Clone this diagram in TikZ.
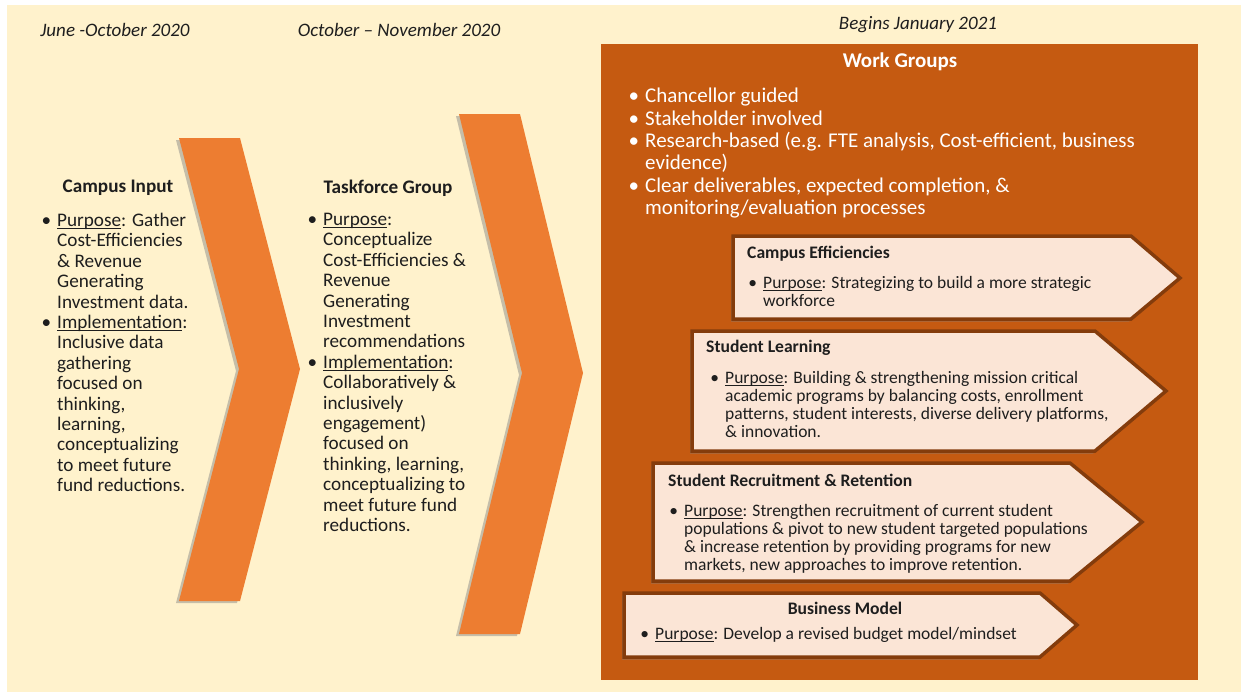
\documentclass[tikz,border=0pt]{standalone}
\usepackage{fontspec}
\setmainfont{Carlito}
\usetikzlibrary{shadows}

\definecolor{cream}{HTML}{FFF2CC}
\definecolor{rust}{HTML}{C55A11}
\definecolor{chev}{HTML}{ED7D31}
\definecolor{peach}{HTML}{FBE5D6}
\definecolor{brownline}{HTML}{843C0C}
\definecolor{ink}{HTML}{1E1E1E}

\newsavebox{\undlbox}
\newcommand{\undl}[1]{\sbox{\undlbox}{#1}\rlap{\rule[-2.4pt]{\wd\undlbox}{0.9pt}}\usebox{\undlbox}}
\newcommand{\bul}{\llap{\textbullet\hspace{6pt}}}
\newcommand{\purp}{\undl{Purpose}}

\begin{document}
\begin{tikzpicture}[x=1pt, y=-1pt,
    date/.style = {font=\fontsize{19}{20}\selectfont\itshape, text=ink, inner sep=0pt},
    head/.style = {font=\fontsize{19.2}{20}\selectfont\bfseries, text=ink, inner sep=0pt},
    col/.style = {anchor=north west, inner sep=0pt, align=left, text=ink, font=\fontsize{19.2}{20.4}\selectfont},
    chevron/.style = {fill=chev, drop shadow={shadow xshift=-3pt, shadow yshift=-2pt, opacity=0.45}},
    wg/.style = {fill=peach, draw=brownline, line width=3.5pt, drop shadow={shadow xshift=-2pt, shadow yshift=-2.5pt, opacity=0.5}},
    wghead/.style = {font=\fontsize{17.6}{18}\selectfont\bfseries, text=ink, inner sep=0pt, anchor=west},
    wgtext/.style = {anchor=north west, inner sep=0pt, align=left, text=ink, font=\fontsize{17.5}{18}\selectfont}]

    % page and background
    \useasboundingbox (0,0) rectangle (1248,694);
    \fill[white] (0,0) rectangle (1248,694);
    \fill[cream] (7,5) rectangle (1241,692);

    % time line
    \node[date] (d1) at (115,30) {June -October 2020};
    \node[date] (d2) at (399,30) {October -- November 2020};
    \node[date] (d3) at (918,25) {Begins January 2021};

    % chevrons
    \fill[chevron] (179,138) -- (240,138) -- (300,369) -- (240,601) -- (179,601) -- (239,369) -- cycle;
    \fill[chevron] (459,114) -- (520,114) -- (583,373) -- (520,634) -- (459,634) -- (522,373) -- cycle;

    % campus input
    \node[head] (input) at (118,188) {Campus Input};
    \node[col] (inputtext) at (57,213) {\bul\purp: Gather\\
        Cost-Efficiencies\\
        \& Revenue\\
        Generating\\
        Investment data.\\
        \bul\undl{Implementation}:\\
        Inclusive data\\
        gathering\\
        focused on\\
        thinking,\\
        learning,\\
        conceptualizing\\
        to meet future\\
        fund reductions.};

    % taskforce
    \node[head] (task) at (388,188) {Taskforce Group};
    \node[col] (tasktext) at (323,213) {\bul\purp:\\
        Conceptualize\\
        Cost-Efficiencies \&\\
        Revenue\\
        Generating\\
        Investment\\
        recommendations\\
        \bul\undl{Implementation}:\\
        Collaboratively \&\\
        inclusively\\
        engagement)\\
        focused on\\
        thinking, learning,\\
        conceptualizing to\\
        meet future fund\\
        reductions.};

    % work groups
    \fill[rust] (601,44) rectangle (1198,680);
    \node[head, text=white, font=\fontsize{21}{22}\selectfont\bfseries] (work) at (900,62) {Work Groups};
    \node[col, text=white, font=\fontsize{21}{22.4}\selectfont] (worktext) at (645,88) {\bul Chancellor guided\\
        \bul Stakeholder involved\\
        \bul Research-based (e.g. FTE analysis, Cost-efficient, business\\
        evidence)\\
        \bul Clear deliverables, expected completion, \&\\
        monitoring/evaluation processes};

    \draw[wg] (733,236) -- (1131,236) -- (1180,278) -- (1131,319) -- (733,319) -- cycle;
    \draw[wg] (692,331) -- (1095,331) -- (1166,391) -- (1095,451) -- (692,451) -- cycle;
    \draw[wg] (653,463) -- (1070,463) -- (1142,522) -- (1070,581) -- (653,581) -- cycle;
    \draw[wg] (624,593) -- (1040,593) -- (1077,625) -- (1040,657) -- (624,657) -- cycle;

    \node[wghead] (eff) at (747,254) {Campus Efficiencies};
    \node[wgtext] (efftext) at (763,276) {\bul\purp: Strategizing to build a more strategic\\
        workforce};

    \node[wghead] (learn) at (706,348) {Student Learning};
    \node[wgtext] (learntext) at (725,371) {\bul\purp: Building \& strengthening mission critical\\
        academic programs by balancing costs, enrollment\\
        patterns, student interests, diverse delivery platforms,\\
        \& innovation.};

    \node[wghead] (recruit) at (668,480) {Student Recruitment \& Retention};
    \node[wgtext] (recruittext) at (684,504) {\bul\purp: Strengthen recruitment of current student\\
        populations \& pivot to new student targeted populations\\
        \& increase retention by providing programs for new\\
        markets, new approaches to improve retention.};

    \node[wghead, anchor=center] (model) at (845,608) {Business Model};
    \node[wgtext] (modeltext) at (655,627) {\bul\purp: Develop a revised budget model/mindset};
\end{tikzpicture}
\end{document}
